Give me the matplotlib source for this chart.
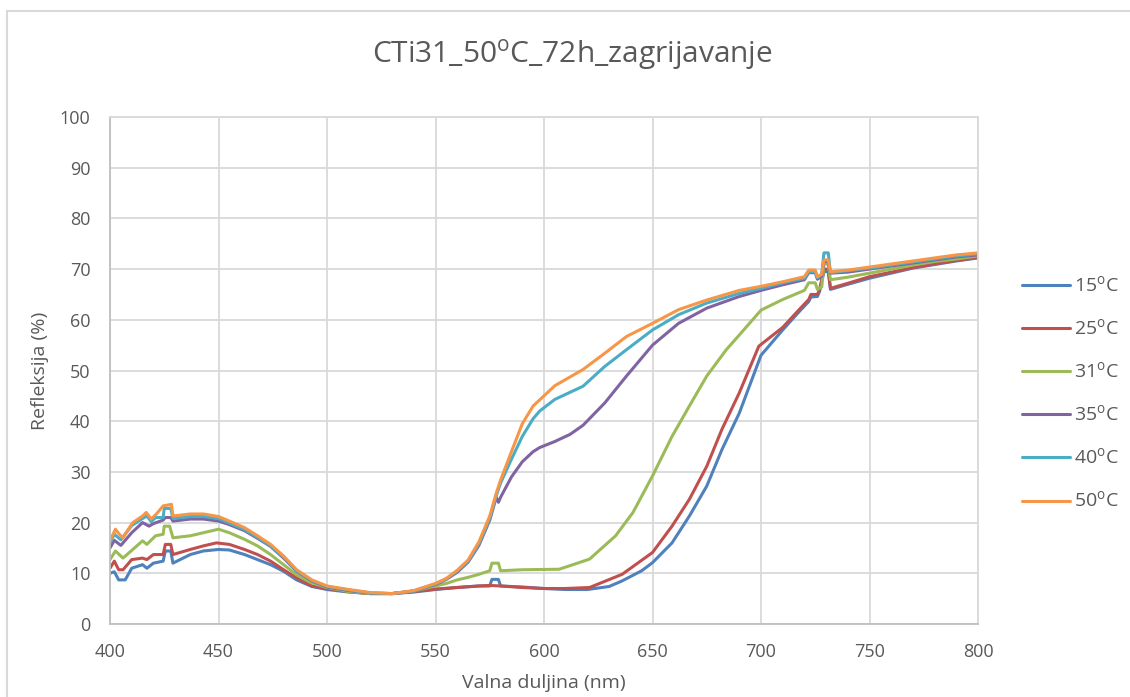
import matplotlib
matplotlib.use("Agg")
import matplotlib.pyplot as plt
from matplotlib.patches import Rectangle

plt.rcParams['font.family'] = ['Open Sans', 'DejaVu Sans']
plt.rcParams['mathtext.fontset'] = 'custom'
plt.rcParams['mathtext.rm'] = 'Open Sans'

DEG = r'$^{\mathrm{o}}$'

# 15 C
wl_15 = [400, 402, 404, 407, 410, 415, 417, 420, 424.5, 425.5, 428, 429, 437, 443, 450, 455,
         462, 468, 474, 480, 486, 493, 500, 510, 520, 530, 540, 550, 560, 570, 575, 576, 579,
         580, 590, 600, 610, 620, 630, 636, 645, 650, 659, 667, 675, 682, 690, 700, 710, 718,
         722, 723, 726, 727, 729, 731, 732, 740, 750, 760, 770, 780, 790, 800]
r_15 = [10.0, 10.3, 8.7, 8.7, 11.0, 11.7, 11.0, 12.0, 12.4, 14.4, 14.4, 12.0, 13.7, 14.4, 14.7, 14.6,
        13.7, 12.7, 11.7, 10.4, 8.7, 7.4, 6.8, 6.3, 6.0, 6.0, 6.3, 6.8, 7.2, 7.5, 7.5, 8.8, 8.8,
        7.5, 7.3, 7.0, 6.8, 6.8, 7.4, 8.5, 10.5, 12.1, 16.0, 21.3, 27.2, 34.4, 41.6, 53.0, 58.0, 61.8,
        63.6, 64.5, 64.6, 65.6, 69.5, 69.5, 66.0, 67.0, 68.2, 69.2, 70.2, 70.9, 71.6, 72.2]

# 25 C
wl_25 = [400, 402, 404, 406, 410, 415, 417, 420, 424.5, 425.5, 428, 429, 437, 443, 449, 455,
         462, 468, 474, 480, 486, 493, 500, 510, 520, 530, 540, 550, 560, 570, 575, 580, 590,
         600, 610, 621, 636, 650, 659, 667, 675, 682, 690, 699, 710, 718, 722, 723, 726, 727,
         729, 731, 732, 740, 750, 760, 770, 780, 790, 800]
r_25 = [11.0, 12.4, 10.7, 10.7, 12.7, 13.0, 12.7, 13.7, 13.7, 15.7, 15.7, 13.7, 14.7, 15.4, 16.0, 15.7,
        14.7, 13.7, 12.4, 10.7, 9.1, 7.5, 7.0, 6.4, 6.0, 6.0, 6.4, 6.9, 7.2, 7.5, 7.6, 7.5, 7.2,
        7.0, 7.0, 7.2, 9.8, 14.1, 19.3, 24.6, 31.1, 38.4, 45.6, 54.8, 58.5, 62.2, 64.0, 65.0, 65.0, 66.0,
        70.0, 70.0, 66.2, 67.2, 68.5, 69.4, 70.3, 71.0, 71.7, 72.3]

# 31 C
wl_31 = [400, 402.5, 406, 410.5, 415, 417, 421, 424.5, 425, 427.5, 429, 437, 443, 450, 455,
         462, 468, 474, 480, 486, 493, 500, 510, 520, 530, 540, 550, 555, 560, 565, 570, 575,
         576, 579, 580, 590, 607, 621, 633, 641, 650, 659, 667, 675, 684, 690, 700, 710, 720,
         722, 725, 726, 728, 729, 731, 732, 740, 750, 760, 770, 780, 790, 800]
r_31 = [12.7, 14.4, 13.0, 14.7, 16.4, 15.7, 17.4, 17.7, 19.3, 19.3, 17.0, 17.4, 18.0, 18.7, 18.0,
        16.7, 15.4, 13.7, 11.7, 9.7, 8.1, 7.2, 6.4, 6.0, 6.0, 6.5, 7.5, 8.0, 8.7, 9.2, 9.8, 10.5,
        12.0, 12.0, 10.5, 10.7, 10.8, 12.8, 17.4, 22.0, 29.2, 37.0, 43.0, 48.9, 54.1, 57.0, 61.9, 64.0, 65.8,
        67.3, 67.3, 66.0, 66.5, 71.0, 71.0, 67.9, 68.4, 69.2, 70.0, 70.8, 71.5, 72.0, 72.6]

# 35 C
wl_35 = [400, 402, 405, 410, 415, 418, 420, 424.5, 425.5, 428, 429, 437, 443, 450, 455,
         462, 468, 474, 480, 486, 493, 500, 510, 520, 530, 540, 550, 555, 560, 565, 570, 575,
         577, 578, 579, 580, 585, 590, 595, 598, 605, 612, 618, 628, 638, 650, 662, 675, 690, 700,
         710, 720, 722, 725, 726, 728, 729, 731, 732, 740, 750, 760, 770, 780, 790, 800]
r_35 = [15.0, 16.5, 15.5, 18.0, 20.0, 19.3, 19.8, 20.5, 21.0, 21.0, 20.3, 20.7, 20.7, 20.3, 19.6,
        18.4, 16.9, 15.3, 13.0, 10.4, 8.5, 7.3, 6.6, 6.1, 6.0, 6.5, 7.8, 8.8, 10.2, 12.2, 15.5, 20.5,
        23.5, 25.0, 24.0, 25.0, 29.0, 32.0, 34.0, 34.8, 36.0, 37.4, 39.2, 43.6, 48.9, 55.0, 59.3, 62.3, 64.6, 65.8,
        66.9, 67.9, 69.3, 69.3, 68.0, 68.6, 71.5, 71.5, 69.2, 69.4, 70.0, 70.6, 71.2, 71.8, 72.4, 72.8]

# 40 C
wl_40 = [400, 402, 405, 410, 415, 417, 419, 421, 424.5, 425, 428, 429, 437, 443, 450, 455,
         462, 468, 474, 480, 486, 493, 500, 510, 520, 530, 540, 550, 555, 560, 565, 570, 575,
         578, 580, 585, 590, 595, 598, 605, 618, 628, 638, 650, 662, 675, 690, 700, 710, 720,
         722, 725, 726, 728, 729, 731, 732, 740, 750, 760, 770, 780, 790, 800]
r_40 = [16.0, 17.7, 16.6, 19.4, 20.8, 21.3, 20.2, 21.0, 21.0, 22.8, 22.8, 20.8, 21.2, 21.2, 20.8, 19.9,
        18.6, 17.1, 15.4, 13.2, 10.5, 8.6, 7.4, 6.7, 6.1, 6.0, 6.5, 7.9, 8.9, 10.4, 12.4, 15.8, 20.8,
        25.3, 27.8, 32.5, 37.0, 40.5, 42.0, 44.3, 46.9, 50.8, 54.1, 58.0, 61.0, 63.3, 65.2, 66.2, 67.3, 68.2,
        69.5, 69.5, 68.3, 69.0, 73.2, 73.2, 69.3, 69.7, 70.2, 70.8, 71.4, 72.0, 72.6, 73.0]

# 50 C
wl_50 = [400, 402.5, 404.3, 406, 407.4, 410.5, 415, 416.7, 419, 421.4, 424.5, 428.3, 429, 437, 443,
         450, 455, 462, 468, 474, 480, 486, 493, 500, 510, 520, 530, 540, 550, 555, 560, 565,
         570, 575, 578, 580, 585, 590, 595, 600, 605, 618, 628, 638, 650, 662, 675, 690, 700,
         710, 720, 722, 725, 726, 728, 729, 731, 732, 740, 750, 760, 770, 780, 790, 800]
r_50 = [16.4, 18.7, 17.7, 17.0, 18.0, 20.0, 21.3, 22.0, 20.7, 21.7, 23.3, 23.6, 21.3, 21.7, 21.7,
        21.2, 20.3, 19.0, 17.4, 15.7, 13.4, 10.7, 8.7, 7.5, 6.8, 6.2, 6.0, 6.6, 8.0, 9.0, 10.6, 12.6,
        16.2, 21.3, 25.8, 28.4, 34.0, 39.5, 43.0, 45.0, 47.0, 50.2, 53.4, 56.7, 59.3, 62.0, 63.9, 65.8, 66.6,
        67.5, 68.5, 69.8, 69.8, 68.5, 69.0, 71.8, 71.8, 69.5, 69.8, 70.4, 71.0, 71.6, 72.2, 72.8, 73.2]

series = [
    ('15' + DEG + 'C', wl_15, r_15, '#4F81BD'),
    ('25' + DEG + 'C', wl_25, r_25, '#C0504D'),
    ('31' + DEG + 'C', wl_31, r_31, '#9BBB59'),
    ('35' + DEG + 'C', wl_35, r_35, '#8064A2'),
    ('40' + DEG + 'C', wl_40, r_40, '#4BACC6'),
    ('50' + DEG + 'C', wl_50, r_50, '#F79646'),
]

text_col = '#595959'
grid_col = '#D9D9D9'

fig = plt.figure(figsize=(11.3, 6.97), dpi=100)
ax = fig.add_axes([110 / 1130, 1 - 624 / 697, 868 / 1130, 507 / 697])

for name, x, y, c in series:
    ax.plot(x, y, color=c, lw=2.2, label=name, solid_capstyle='round')

ax.set_xlim(400, 800)
ax.set_ylim(0, 100)
ax.set_xticks(range(400, 801, 50))
ax.set_yticks(range(0, 101, 10))
ax.grid(True, color=grid_col, lw=1.3)
ax.set_axisbelow(True)
for s in ax.spines.values():
    s.set_color(grid_col)
    s.set_linewidth(1.3)
ax.spines['left'].set_color('#BFBFBF')
ax.spines['bottom'].set_color('#BFBFBF')
ax.tick_params(length=0, labelsize=13, labelcolor=text_col)
ax.tick_params(axis='x', pad=14)
ax.tick_params(axis='y', pad=14)

ax.set_xlabel('Valna duljina (nm)', fontsize=14, color=text_col, labelpad=9)
ax.set_ylabel('Refleksija (%)', fontsize=14, color=text_col, labelpad=8)
fig.text(572 / 1130, 1 - 55 / 697, 'CTi31_50' + DEG + 'C_72h_zagrijavanje',
         ha='center', va='center', fontsize=21.5, color=text_col)

ax.legend(loc='center left', bbox_to_anchor=(1.03, 0.455), frameon=False, fontsize=14,
          labelcolor=text_col, handlelength=2.5, handletextpad=0.2, labelspacing=1.15)

# chart border
fig.patches.append(Rectangle((7 / 1130, -0.1), 1.2, 1.1 - 11 / 697, transform=fig.transFigure,
                             fill=False, edgecolor=grid_col, lw=1.5))

fig.savefig('out.png', dpi=100)
